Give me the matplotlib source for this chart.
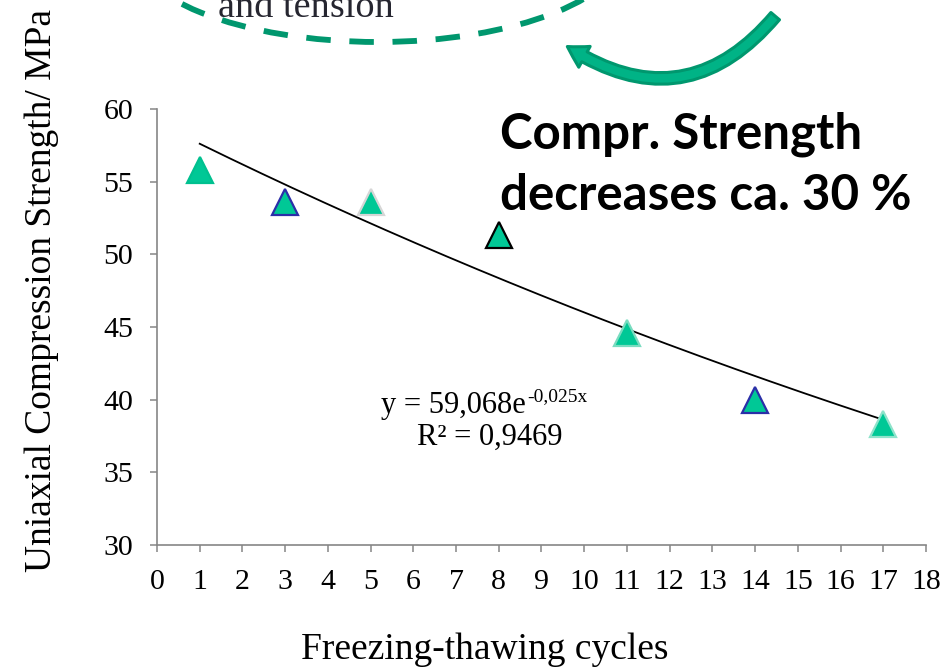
import matplotlib
matplotlib.use("Agg")
import matplotlib.pyplot as plt
import numpy as np
from matplotlib.patches import Arc, FancyArrowPatch

# ---- data ----
cycles = [1, 3, 5, 8, 11, 14, 17]
strength = [55.8, 53.6, 53.6, 51.35, 44.6, 40.0, 38.3]
edge_colors = ["#00C08F", "#2B2FA8", "#D6D6D6", "#000000", "#7ADCC0", "#2B2FA8", "#8FE3CB"]
fit_a = 59.068
fit_b = -0.025
x_ticks = list(range(0, 19))
y_ticks = [30, 35, 40, 45, 50, 55, 60]

W, H = 945, 670
fig = plt.figure(figsize=(W / 100, H / 100), dpi=100)
serif = ["Liberation Serif", "DejaVu Serif"]

ax = fig.add_axes([157 / W, 1 - 545 / H, (926 - 157) / W, (545 - 109) / H])
ax.set_xlim(0, 18)
ax.set_ylim(30, 60)
ax.set_xticks(x_ticks)
ax.set_yticks(y_ticks)
for s in ["top", "right"]:
    ax.spines[s].set_visible(False)
for s in ["left", "bottom"]:
    ax.spines[s].set_color("#868686")
    ax.spines[s].set_linewidth(1.2)
ax.tick_params(direction="out", length=5, width=1.1, color="#868686",
               labelsize=21.5, pad=12)
for lab in ax.get_xticklabels() + ax.get_yticklabels():
    lab.set_family(serif)

# trend line
xf = np.linspace(cycles[0], cycles[-1], 200)
ax.plot(xf, fit_a * np.exp(fit_b * xf), color="black", lw=1.3, zorder=2)

# markers
for x, y, ec in zip(cycles, strength, edge_colors):
    ax.plot([x], [y], marker="^", ms=18.5, mfc="#00C896", mec=ec, mew=1.6,
            ls="none", zorder=3)

# equation
t1 = fig.text(381 / W, 1 - 405 / H, "y = 59,068e", family=serif, fontsize=22,
              ha="left", va="center")
fig.canvas.draw()
bb = t1.get_window_extent()
fig.text((bb.x1 + 1) / W, (bb.y1 - 6) / H, "-0,025x", family=serif,
         fontsize=14, ha="left", va="center")
fig.text(490 / W, 1 - 437 / H, "R² = 0,9469", family=serif, fontsize=22,
         ha="center", va="center")

# labels
fig.text(42 / W, 1 - 290 / H, "Uniaxial Compression Strength/ MPa",
         family=serif, fontsize=27, rotation=90, ha="center", va="center")
fig.text(485 / W, 1 - 650 / H, "Freezing-thawing cycles", family=serif,
         fontsize=27, ha="center", va="center")

# big annotation
fig.text(500 / W, 1 - 165 / H, "Compr. Strength\ndecreases ca. 30 %",
         family=["Lato", "DejaVu Sans"], fontweight="bold", fontsize=35.5,
         ha="left", va="center", linespacing=1.42)

# top decorations
fig.text(218 / W, 1 - 17 / H, "and tension", family=serif, fontsize=27.5,
         color="#262630", ha="left", va="baseline")
arc = Arc((378 / W, 1 - (-58) / H), 500 / W, 200 / H, theta1=180, theta2=360,
          transform=fig.transFigure, color="#00976E", lw=4.2,
          linestyle=(0, (4.2, 3.2)))
fig.add_artist(arc)
arrow = FancyArrowPatch((777 / W, 1 - 14 / H), (565 / W, 1 - 45 / H),
                        transform=fig.transFigure,
                        connectionstyle="arc3,rad=-0.45",
                        arrowstyle="simple,head_length=0.8,head_width=0.95,tail_width=0.45",
                        mutation_scale=18, facecolor="#00B386",
                        edgecolor="#00976E", lw=2.2)
fig.add_artist(arrow)

fig.savefig("out.png", dpi=100, facecolor="white")
